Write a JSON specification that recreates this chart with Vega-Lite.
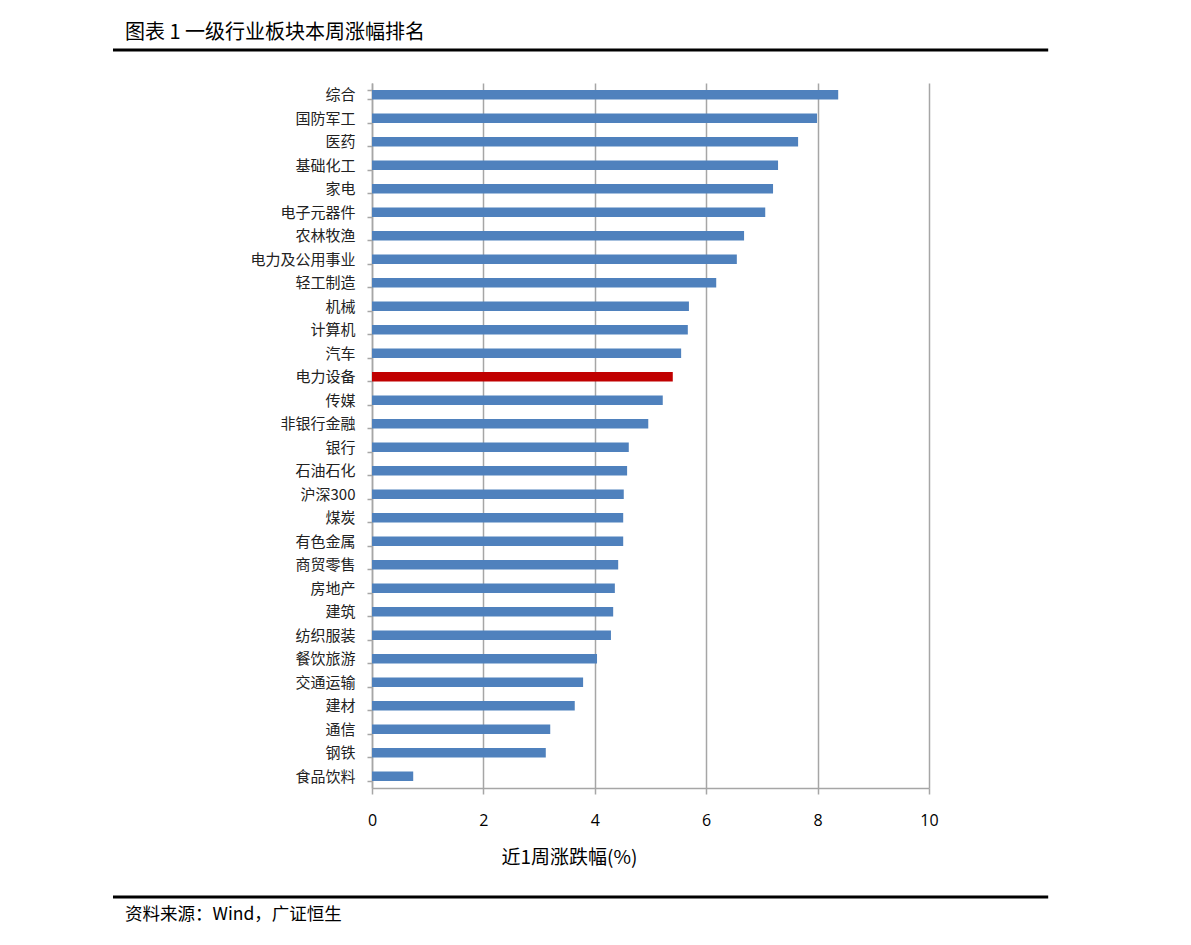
{
  "$schema": "https://vega.github.io/schema/vega-lite/v6.json",
  "width": 557,
  "height": 705,
  "autosize": {"type": "none"},
  "padding": {"left": 372, "top": 83, "right": 262, "bottom": 157},
  "background": "white",
  "config": {"view": {"stroke": null}},
  "resolve": {"scale": {"y": "independent"}},
  "layer": [
    {
      "data": {
        "values": [
          {"name": "综合", "value": 8.37},
          {"name": "国防军工", "value": 7.99},
          {"name": "医药", "value": 7.65},
          {"name": "基础化工", "value": 7.29},
          {"name": "家电", "value": 7.2},
          {"name": "电子元器件", "value": 7.06},
          {"name": "农林牧渔", "value": 6.68},
          {"name": "电力及公用事业", "value": 6.55},
          {"name": "轻工制造", "value": 6.18},
          {"name": "机械", "value": 5.69},
          {"name": "计算机", "value": 5.67},
          {"name": "汽车", "value": 5.55},
          {"name": "电力设备", "value": 5.4},
          {"name": "传媒", "value": 5.22},
          {"name": "非银行金融", "value": 4.96},
          {"name": "银行", "value": 4.61},
          {"name": "石油石化", "value": 4.58},
          {"name": "沪深300", "value": 4.52},
          {"name": "煤炭", "value": 4.51},
          {"name": "有色金属", "value": 4.51},
          {"name": "商贸零售", "value": 4.42},
          {"name": "房地产", "value": 4.36},
          {"name": "建筑", "value": 4.33},
          {"name": "纺织服装", "value": 4.29},
          {"name": "餐饮旅游", "value": 4.04},
          {"name": "交通运输", "value": 3.79},
          {"name": "建材", "value": 3.64},
          {"name": "通信", "value": 3.2},
          {"name": "钢铁", "value": 3.12},
          {"name": "食品饮料", "value": 0.74}
        ]
      },
      "mark": {"type": "bar"},
      "encoding": {
        "y": {
          "field": "name",
          "type": "nominal",
          "sort": null,
          "scale": {"paddingInner": 0.6, "paddingOuter": 0.3},
          "axis": {
            "title": null,
            "tickBand": "extent",
            "tickSize": 5,
            "tickColor": "#a6a6a6",
            "tickWidth": 1.5,
            "domainColor": "#a6a6a6",
            "domainWidth": 1.5,
            "labelFont": "Noto Sans CJK SC",
            "labelFontSize": 15,
            "labelColor": "#222222",
            "labelPadding": 12,
            "labelLimit": 300,
            "grid": false
          }
        },
        "x": {
          "field": "value",
          "type": "quantitative",
          "scale": {"domain": [0, 10], "nice": false},
          "axis": {
            "values": [0, 2, 4, 6, 8, 10],
            "labelFlush": false,
            "title": "近1周涨跌幅(%)",
            "titleFont": "Noto Sans CJK SC",
            "titleFontSize": 19,
            "titleFontWeight": "normal",
            "titleColor": "#000000",
            "titlePadding": 20,
            "titleX": 197,
            "titleAlign": "center",
            "labelFont": "Open Sans",
            "labelFontSize": 16,
            "labelColor": "#000000",
            "labelPadding": 18,
            "tickSize": 6,
            "tickColor": "#a6a6a6",
            "tickWidth": 1.5,
            "domainColor": "#a6a6a6",
            "domainWidth": 1.5,
            "grid": true,
            "gridColor": "#a6a6a6",
            "gridWidth": 1.5
          }
        },
        "color": {
          "condition": {"test": "datum.name === '电力设备'", "value": "#c00000"},
          "value": "#4f81bd"
        }
      }
    },
    {
      "data": {"values": [{}]},
      "mark": {"type": "rule", "color": "#000000", "strokeWidth": 3},
      "encoding": {
        "x": {"datum": -4.65, "type": "quantitative"},
        "x2": {"datum": 12.14},
        "y": {"datum": 1.0468, "type": "quantitative", "scale": {"domain": [0, 1]}, "axis": null}
      }
    },
    {
      "data": {"values": [{}]},
      "mark": {"type": "rule", "color": "#000000", "strokeWidth": 3},
      "encoding": {
        "x": {"datum": -4.65, "type": "quantitative"},
        "x2": {"datum": 12.14},
        "y": {"datum": -0.1546, "type": "quantitative", "scale": {"domain": [0, 1]}, "axis": null}
      }
    },
    {
      "data": {"values": [{}]},
      "mark": {"type": "text", "align": "left", "baseline": "middle", "font": "Noto Sans CJK SC", "fontSize": 20, "color": "#000000"},
      "encoding": {
        "x": {"datum": -4.434, "type": "quantitative"},
        "y": {"datum": 1.0709, "type": "quantitative", "scale": {"domain": [0, 1]}, "axis": null},
        "text": {"value": "图表 1 一级行业板块本周涨幅排名"}
      }
    },
    {
      "data": {"values": [{}]},
      "mark": {"type": "text", "align": "left", "baseline": "middle", "font": "Noto Sans CJK SC", "fontSize": 17.5, "color": "#000000"},
      "encoding": {
        "x": {"datum": -4.434, "type": "quantitative"},
        "y": {"datum": -0.1801, "type": "quantitative", "scale": {"domain": [0, 1]}, "axis": null},
        "text": {"value": "资料来源：Wind，广证恒生"}
      }
    }
  ]
}
